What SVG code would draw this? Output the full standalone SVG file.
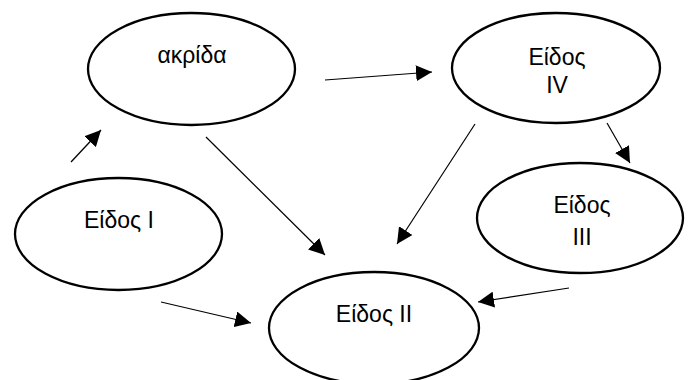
<svg xmlns="http://www.w3.org/2000/svg" width="692" height="380" viewBox="0 0 692 380">
  <style>
    .node ellipse { fill: #ffffff; stroke: #000000; stroke-width: 2.3; }
    .node text { font-family: "Liberation Sans", Arial, sans-serif; font-size: 23px; fill: #000000; text-anchor: middle; }
    .edges line { stroke: #000000; stroke-width: 1.2; marker-end: url(#arrow); }
  </style>
  <defs>
    <marker id="arrow" markerUnits="userSpaceOnUse" markerWidth="16" markerHeight="16" viewBox="0 0 16 16" refX="16" refY="8" orient="auto">
      <path d="M0,0 L16,8 L0,16 Z" fill="#000000"/>
    </marker>
  </defs>
  <rect width="692" height="380" fill="#ffffff"/>

  <g id="akrida" class="node">
    <ellipse cx="191.5" cy="69" rx="103.5" ry="56"/>
    <text x="192" y="63">ακρίδα</text>
  </g>
  <g id="eidos-iv" class="node">
    <ellipse cx="556" cy="68" rx="104" ry="55"/>
    <text x="557" y="65">Είδος</text>
    <text x="557" y="93">IV</text>
  </g>
  <g id="eidos-iii" class="node">
    <ellipse cx="580" cy="218" rx="103" ry="55"/>
    <text x="582" y="213">Είδος</text>
    <text x="582" y="245">III</text>
  </g>
  <g id="eidos-i" class="node">
    <ellipse cx="118.5" cy="234" rx="103.5" ry="56"/>
    <text x="119" y="228">Είδος I</text>
  </g>
  <g id="eidos-ii" class="node">
    <ellipse cx="374" cy="328" rx="105" ry="56"/>
    <text x="374" y="322">Είδος II</text>
  </g>

  <g id="connectors" class="edges">
    <line x1="325" y1="80" x2="432" y2="72"/>
    <line x1="71" y1="162" x2="101" y2="130"/>
    <line x1="206" y1="137" x2="325" y2="255"/>
    <line x1="475" y1="124" x2="397" y2="244"/>
    <line x1="607" y1="123" x2="630" y2="163"/>
    <line x1="569" y1="288" x2="478" y2="302"/>
    <line x1="161" y1="302" x2="251" y2="323"/>
  </g>
</svg>
